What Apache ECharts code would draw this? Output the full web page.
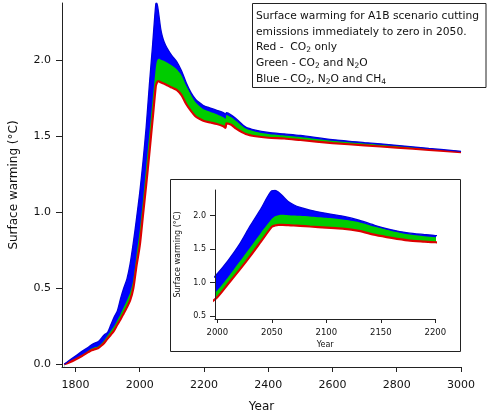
<!DOCTYPE html>
<html><head><meta charset="utf-8">
<script src="https://cdn.jsdelivr.net/npm/echarts@6/dist/echarts.min.js"></script>
<style>html,body{margin:0;padding:0;background:#fff;} #c{width:488px;height:418px;}</style>
</head><body><div id="c"></div>
<script>
const years = [1765,1780,1800,1820,1840,1850,1860,1870,1880,1890,1900,1910,1920,1930,1940,1950,1960,1970,1980,1990,2000,2010,2020,2030,2040,2050,2053,2056,2060,2065,2070,2076,2085,2100,2115,2130,2145,2160,2175,2190,2200,2220,2240,2260,2267,2270,2285,2300,2330,2360,2400,2450,2500,2600,2700,2800,2900,3000];
const red = [0,0.012,0.032,0.055,0.08,0.092,0.1,0.106,0.122,0.142,0.17,0.195,0.222,0.26,0.295,0.335,0.375,0.42,0.5,0.65,0.78,0.98,1.18,1.39,1.61,1.83,1.85,1.86,1.86,1.855,1.85,1.845,1.835,1.82,1.805,1.77,1.71,1.665,1.628,1.61,1.6,1.59,1.58,1.565,1.555,1.585,1.575,1.55,1.515,1.5,1.49,1.485,1.475,1.455,1.44,1.425,1.41,1.395];
const green = [0,0.015,0.038,0.062,0.09,0.104,0.113,0.118,0.135,0.16,0.19,0.22,0.25,0.29,0.33,0.375,0.42,0.47,0.56,0.72,0.88,1.08,1.3,1.52,1.74,1.95,1.99,2.005,2.01,2.005,2.0,1.995,1.985,1.965,1.94,1.9,1.83,1.77,1.72,1.69,1.675,1.66,1.645,1.625,1.615,1.64,1.625,1.6,1.55,1.53,1.515,1.505,1.495,1.47,1.452,1.435,1.417,1.4];
const blue = [0,0.025,0.055,0.085,0.112,0.128,0.14,0.148,0.17,0.195,0.21,0.26,0.31,0.35,0.43,0.5,0.56,0.66,0.8,0.96,1.13,1.33,1.56,1.84,2.1,2.37,2.375,2.35,2.29,2.21,2.16,2.12,2.08,2.03,1.99,1.93,1.85,1.785,1.74,1.715,1.7,1.685,1.67,1.655,1.645,1.655,1.64,1.615,1.56,1.54,1.525,1.515,1.505,1.478,1.458,1.44,1.42,1.401];
const mainXTicks = [1800,2000,2200,2400,2600,2800,3000];
const mainYTicks = [0,0.5,1.0,1.5,2.0];
const insetXTicks = [2000,2050,2100,2150,2200];
const insetYTicks = [0.5,1.0,1.5,2.0];

const FONT = 'DejaVu Sans';
const chart = echarts.init(document.getElementById('c'), null, {renderer:'canvas'});

function bandSeries(idx, redW) {
  const common = {type:'line', xAxisIndex:idx, yAxisIndex:idx, symbol:'none', smooth:0.25, silent:true, animation:false};
  const pts = arr => years.map((y,i)=>[y, arr[i]]);
  return [
    Object.assign({}, common, {z:2, data: pts(blue), lineStyle:{width:0, opacity:0}, areaStyle:{color:'#0000ff', opacity:1, origin:'start'}}),
    Object.assign({}, common, {z:2, data: pts(green), lineStyle:{width:0, opacity:0}, areaStyle:{color:'#00cc00', opacity:1, origin:'start'}}),
    Object.assign({}, common, {z:2, data: pts(red), lineStyle:{width:0, opacity:0}, areaStyle:{color:'#ffffff', opacity:1, origin:'start'}}),
    Object.assign({}, common, {z:3, data: pts(red), lineStyle:{color:'#dd0000', width:redW}}),
    Object.assign({}, common, {z:4, data: pts(blue), lineStyle:{color:'#0000dd', width:1.3}})
  ];
}

const axisCommon = {
  z:10,
  axisLine:{show:true, onZero:false, lineStyle:{color:'#222', width:1}},
  splitLine:{show:false}
};
const txt = {fontFamily:FONT, color:'#111'};
const richSub = {
  n:{fontSize:10.7, fontFamily:FONT, fill:'#111', lineHeight:14, verticalAlign:'middle'},
  s:{fontSize:7.5, fontFamily:FONT, fill:'#111', lineHeight:8, verticalAlign:'bottom'}
};

const option = {
  animation:false,
  backgroundColor:'#fff',
  grid:[
    {left:58.7, right:27, top:3, bottom:46, containLabel:false},
    {left:215, right:52.7, top:190, bottom:99, containLabel:false}
  ],
  xAxis:[
    Object.assign({}, axisCommon, {type:'value', gridIndex:0, min:1758, max:3000,
      axisTick:{show:true, length:5, customValues:mainXTicks, lineStyle:{color:'#222'}},
      axisLabel:Object.assign({customValues:mainXTicks, margin:13, fontSize:11, formatter:v=>String(v)}, txt),
      name:'Year', nameLocation:'middle', nameGap:34, nameTextStyle:Object.assign({fontSize:12}, txt)}),
    Object.assign({}, axisCommon, {type:'value', gridIndex:1, min:1997.9, max:2200,
      axisTick:{show:true, length:4, customValues:insetXTicks, lineStyle:{color:'#222'}},
      axisLabel:Object.assign({customValues:insetXTicks, margin:9, fontSize:8.5, formatter:v=>String(v)}, txt),
      name:'Year', nameLocation:'middle', nameGap:22, nameTextStyle:Object.assign({fontSize:8}, txt)})
  ],
  yAxis:[
    Object.assign({}, axisCommon, {type:'value', gridIndex:0, min:-0.0175, max:2.376,
      axisTick:{show:true, length:6, customValues:mainYTicks, lineStyle:{color:'#222'}},
      axisLabel:Object.assign({customValues:mainYTicks, margin:11, fontSize:11, formatter:v=>v.toFixed(1)}, txt),
      name:'Surface warming (°C)', nameLocation:'middle', nameGap:42, nameTextStyle:Object.assign({fontSize:12}, txt)}),
    Object.assign({}, axisCommon, {type:'value', gridIndex:1, min:0.455, max:2.38,
      axisTick:{show:true, length:5, customValues:insetYTicks, lineStyle:{color:'#222'}},
      axisLabel:Object.assign({customValues:insetYTicks, margin:9, fontSize:8, formatter:v=>v.toFixed(1)}, txt),
      name:'Surface warming (°C)', nameLocation:'middle', nameGap:33, nameTextStyle:Object.assign({fontSize:8}, txt)})
  ],
  series: bandSeries(0, 2.2).concat(bandSeries(1, 2.2)),
  graphic:[
    {type:'rect', shape:{x:170.5, y:179.5, width:290, height:172}, style:{fill:'none', stroke:'#222', lineWidth:1}, z:10, silent:true},
    {type:'rect', shape:{x:252.5, y:3.5, width:233.5, height:84}, style:{fill:'#fff', stroke:'#222', lineWidth:1}, z:10, silent:true},
    {type:'text', z:12, x:256, y:16.5, style:{text:'Surface warming for A1B scenario cutting', fontSize:10.7, fontFamily:FONT, fill:'#111', verticalAlign:'middle'}},
    {type:'text', z:12, x:256, y:32, style:{text:'emissions immediately to zero in 2050.', fontSize:10.7, fontFamily:FONT, fill:'#111', verticalAlign:'middle'}},
    {type:'text', z:12, x:256, y:47.5, style:{text:'{n|Red -  CO}{s|2}{n| only}', verticalAlign:'middle', rich:richSub}},
    {type:'text', z:12, x:256, y:63.5, style:{text:'{n|Green - CO}{s|2}{n| and N}{s|2}{n|O}', verticalAlign:'middle', rich:richSub}},
    {type:'text', z:12, x:256, y:79.5, style:{text:'{n|Blue - CO}{s|2}{n|, N}{s|2}{n|O and CH}{s|4}', verticalAlign:'middle', rich:richSub}}
  ]
};
chart.setOption(option);
</script></body></html>
